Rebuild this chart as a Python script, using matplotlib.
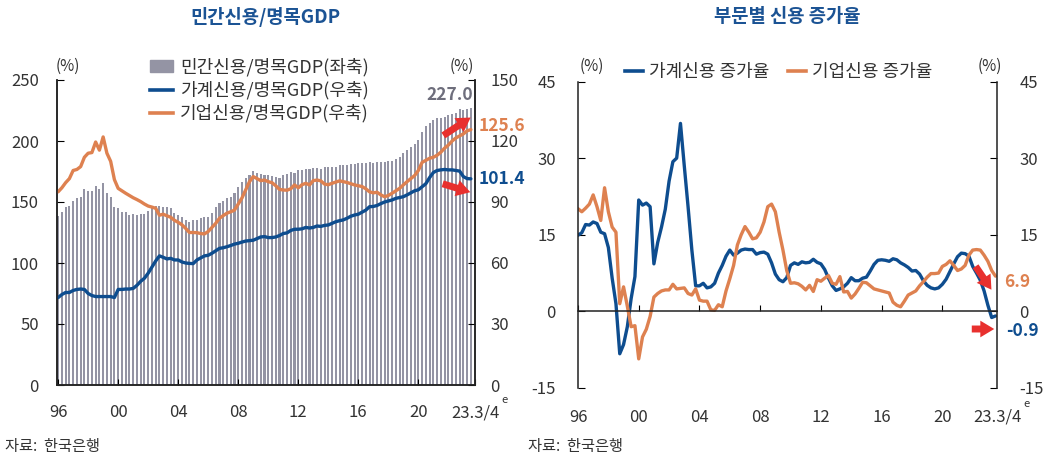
import numpy as np
import matplotlib
matplotlib.use('Agg')
import matplotlib.pyplot as plt
from matplotlib.patches import Patch
from matplotlib.lines import Line2D

plt.rcParams['font.family'] = ['Noto Sans CJK KR', 'DejaVu Sans']
plt.rcParams['axes.unicode_minus'] = False

# quarterly, 1996Q1 .. 2023Q3
year_ticks = ['96', '00', '04', '08', '12', '16', '20']
last_label = '23.3/4'

# private credit / nominal GDP (left axis, %)
private_gdp = [138.5, 142, 146, 146.5, 150.5, 153, 154, 161, 159, 159, 163, 161, 165.5, 157.5, 154, 145.5,
               145, 142, 141.5, 139, 140, 139.5, 140.5, 140, 143, 145.5, 146.5, 146.5, 146, 145.5, 144.8, 141,
               139.5, 138, 135, 134, 135, 135.5, 136.5, 137.3, 138, 141, 146, 149, 151, 153, 154, 157.5,
               162, 166, 169.5, 172, 175, 174, 173, 172, 172, 171.5, 170.8, 169.5, 172, 173, 174.8, 174,
               176, 176.5, 176.8, 177, 177.5, 177.5, 176.8, 178.5, 179, 179, 179, 180, 180.3, 180.5, 181, 181.5,
               182, 182, 182.2, 183, 182, 182.5, 183, 183, 183.5, 184, 185.5, 186.5, 190, 192.5, 195, 197.5,
               201, 207.5, 212, 214.5, 217, 218.5, 218.8, 220, 221, 222, 223.2, 226, 225.4, 226, 227.0]

# household credit / nominal GDP (right axis, %)
household_gdp = [43.0, 44.5, 45.5, 45.5, 46.5, 47.0, 47.2, 47.0, 45.0, 44.0, 43.5, 43.5, 43.5, 43.5, 43.5, 43.0,
                 47.0, 47.0, 47.2, 47.2, 47.5, 49.0, 51.0, 52.5, 55.0, 58.0, 61.0, 63.5, 62.8, 62.0, 62.3, 61.5,
                 61.5, 60.5, 60.0, 59.8, 59.7, 61.5, 62.5, 63.5, 63.8, 64.8, 66.0, 67.2, 67.5, 68.0, 68.6, 69.3,
                 69.7, 70.3, 70.8, 71.0, 71.2, 72.0, 72.8, 73.0, 72.5, 72.5, 72.8, 73.5, 74.5, 74.8, 76.0, 76.6,
                 76.6, 76.8, 77.5, 77.2, 77.5, 78.2, 78.0, 78.5, 78.7, 79.5, 80.3, 80.8, 81.2, 82.0, 83.0, 83.6,
                 84.0, 85.0, 86.0, 87.7, 87.8, 88.3, 89.2, 90.0, 90.5, 91.0, 91.8, 92.2, 92.6, 93.5, 94.5, 95.5,
                 96.0, 97.5, 99.0, 102.0, 104.5, 105.5, 105.8, 106.0, 105.8, 105.8, 105.5, 105.2, 102.5, 101.5, 101.4]

# corporate credit / nominal GDP (right axis, %)
corporate_gdp = [95.0, 97.0, 99.5, 101.5, 105.5, 106.0, 107.4, 112.0, 114.0, 114.3, 119.5, 115.5, 122.0, 114.0, 110.0, 101.0,
                 96.7, 95.5, 94.3, 93.2, 92.1, 91.2, 90.2, 89.0, 88.0, 87.5, 86.9, 83.5, 84.0, 83.2, 82.5, 81.0,
                 80.0, 78.8, 77.0, 75.0, 75.0, 74.9, 74.5, 74.3, 75.5, 77.5, 79.5, 82.0, 83.3, 84.5, 85.2, 86.0,
                 89.0, 92.0, 96.0, 100.0, 102.5, 101.5, 100.5, 100.8, 100.0, 99.5, 98.0, 96.2, 95.9, 95.8, 96.5, 98.4,
                 97.0, 98.5, 99.2, 98.4, 100.5, 100.8, 100.4, 98.8, 98.5, 99.2, 99.8, 100.4, 100.0, 99.6, 99.0, 98.4,
                 98.0, 97.6, 96.5, 95.0, 94.5, 94.8, 93.5, 92.6, 93.2, 94.3, 95.5, 96.7, 98.4, 100.0, 101.5, 103.0,
                 105.5, 109.5, 110.5, 111.5, 112.0, 113.0, 114.5, 116.5, 118.0, 120.0, 121.5, 122.5, 123.5, 125.0, 125.6]

# credit growth by sector (yoy, %)
household_growth = [14.9, 15.4, 17.0, 16.9, 17.5, 17.2, 15.5, 15.2, 12.5, 6.5, 1.5, -8.3, -6.5, -3.0, 2.5, 6.8,
                    21.8, 20.8, 21.2, 20.5, 9.3, 13.5, 16.5, 20.0, 25.5, 29.3, 30.0, 36.8, 28.5, 20.5, 12.0, 5.0,
                    5.0, 5.5, 4.6, 4.8, 5.5, 7.5, 9.0, 10.8, 12.0, 11.0, 11.4, 12.0, 12.2, 12.1, 12.1, 11.2,
                    11.5, 11.6, 11.2, 9.5, 7.3, 6.2, 5.8, 6.6, 9.0, 9.5, 9.2, 9.7, 9.5, 9.6, 10.2, 9.6,
                    9.3, 8.2, 6.5, 5.0, 4.1, 4.4, 4.8, 5.5, 6.6, 6.0, 6.0, 6.5, 6.7, 7.9, 9.2, 10.0,
                    10.1, 10.0, 9.8, 10.3, 10.1, 9.5, 9.1, 8.6, 7.9, 8.0, 7.3, 6.0, 5.1, 4.6, 4.4, 4.6,
                    5.3, 6.3, 7.8, 9.3, 10.7, 11.4, 11.3, 10.8, 8.8, 7.5, 6.1, 4.0, 1.2, -1.2, -0.9]

corporate_growth = [20.1, 19.5, 20.2, 21.0, 22.8, 20.5, 17.8, 24.2, 19.5, 16.5, 15.5, 1.5, 4.8, 1.0, -3.0, -2.8,
                    -9.3, -5.0, -3.5, -1.0, 2.8, 3.5, 4.0, 4.2, 4.2, 5.3, 4.4, 4.5, 4.6, 3.5, 3.2, 4.4,
                    2.2, 2.0, 2.0, 0.3, 0.2, 1.3, 0.9, 4.0, 6.4, 9.0, 13.0, 15.0, 16.6, 15.5, 14.2, 14.4,
                    15.5, 17.5, 20.5, 21.0, 19.5, 15.5, 12.0, 8.0, 5.5, 5.6, 5.4, 4.9, 4.2, 5.1, 3.9, 6.2,
                    5.9, 6.5, 7.0, 5.5, 5.3, 6.8, 3.8, 3.9, 2.6, 3.4, 4.5, 5.7, 5.6, 5.0, 4.4, 4.2,
                    4.0, 3.8, 3.6, 1.8, 1.2, 0.9, 2.0, 3.2, 3.6, 4.0, 5.0, 5.8, 6.7, 7.4, 7.4, 7.5,
                    8.8, 9.2, 9.9, 9.0, 8.0, 8.3, 9.0, 11.0, 12.0, 12.1, 12.0, 11.0, 9.8, 8.0, 6.9]

BLUE = '#0E4D8F'
ORANGE = '#DE8150'
GRAY = '#9494A4'
TITLE = '#1B5394'
TXT = '#333333'
RED = '#E8302E'

q = np.arange(len(private_gdp))
tick_pos = np.arange(0, 97, 16)

fig = plt.figure(figsize=(10.47, 4.59), dpi=100)

# ---------------- left panel ----------------
ax = fig.add_axes([57 / 1047, 74 / 459, 418 / 1047, 305 / 459])
ax.bar(q, private_gdp, width=0.55, color=GRAY, linewidth=0)
ax.set_ylim(0, 250)
ax.set_yticks(range(0, 251, 50))
ax.set_xlim(-0.3, 111.1)
ax.set_xticks(list(tick_pos) + [111.1])
ax.set_xticklabels(year_ticks + [last_label])
ax2 = ax.twinx()
ax2.plot(q, household_gdp, color=BLUE, lw=2.4, solid_capstyle='round')
ax2.plot(q, corporate_gdp, color=ORANGE, lw=2.4, solid_capstyle='round')
ax2.set_ylim(0, 150)
ax2.set_yticks(range(0, 151, 30))

for a in (ax, ax2):
    a.spines['top'].set_visible(False)
    for s in ('left', 'right', 'bottom'):
        a.spines[s].set_linewidth(1.1)
        a.spines[s].set_color('#222222')
ax.tick_params(axis='y', direction='in', length=5, pad=13, labelsize=12, labelcolor=TXT)
ax2.tick_params(axis='y', direction='in', length=5, pad=11, labelsize=12, labelcolor=TXT)
ax.tick_params(axis='x', direction='in', length=4, pad=14, labelsize=12, labelcolor=TXT)

fig.text(265 / 1047, 1 - 17 / 459, '민간신용/명목GDP', ha='center', va='center',
         fontsize=13.5, fontweight='bold', color=TITLE)
fig.text(68 / 1047, 1 - 66 / 459, '(%)', ha='center', va='center', fontsize=11, color=TXT)
fig.text(462 / 1047, 1 - 66 / 459, '(%)', ha='center', va='center', fontsize=11, color=TXT)
fig.text(505 / 1047, 1 - 400 / 459, 'e', ha='center', va='center', fontsize=8, color=TXT)

handles = [Patch(color=GRAY),
           Line2D([], [], color=BLUE, lw=2.6),
           Line2D([], [], color=ORANGE, lw=2.6)]
labels = ['민간신용/명목GDP(좌축)', '가계신용/명목GDP(우축)', '기업신용/명목GDP(우축)']
leg = fig.legend(handles, labels, loc='upper left', bbox_to_anchor=(150 / 1047, 1 - 58 / 459),
                 frameon=False, fontsize=13, handlelength=1.3, handleheight=0.65,
                 handletextpad=0.35, labelspacing=0.26, borderpad=0, borderaxespad=0)
for t in leg.get_texts():
    t.set_color(TXT)

fig.text(450 / 1047, 1 - 95 / 459, '227.0', ha='center', va='center', fontsize=12.5,
         fontweight='bold', color='#6E6E7C')
fig.text(502 / 1047, 1 - 126 / 459, '125.6', ha='center', va='center', fontsize=12.5,
         fontweight='bold', color=ORANGE)
fig.text(502 / 1047, 1 - 179 / 459, '101.4', ha='center', va='center', fontsize=12.5,
         fontweight='bold', color=BLUE)

arrow = dict(arrowstyle='simple,head_width=1.2,head_length=1.0,tail_width=0.5',
             color=RED, lw=0)
ax.annotate('', xy=(473, 459 - 116), xytext=(441, 459 - 137), xycoords='figure pixels',
            textcoords='figure pixels', arrowprops=arrow)
ax.annotate('', xy=(473, 459 - 193), xytext=(440, 459 - 183), xycoords='figure pixels',
            textcoords='figure pixels', arrowprops=arrow)

fig.text(5 / 1047, 13 / 459, '자료:  한국은행', ha='left', va='center', fontsize=11, color=TXT)

# ---------------- right panel ----------------
bx = fig.add_axes([578 / 1047, 71 / 459, 419 / 1047, 306.5 / 459])
bx.plot(q, household_growth, color=BLUE, lw=2.4, solid_capstyle='round')
bx.plot(q, corporate_growth, color=ORANGE, lw=2.4, solid_capstyle='round')
bx.set_ylim(-15, 45)
bx.set_yticks(range(-15, 46, 15))
bx.set_xlim(0, 110.4)
bx.spines['top'].set_visible(False)
bx.spines['bottom'].set_position(('data', 0))
for s in ('left', 'right', 'bottom'):
    bx.spines[s].set_linewidth(1.1)
    bx.spines[s].set_color('#222222')
bx.set_xticks(tick_pos)
bx.tick_params(axis='x', direction='in', length=4, labelbottom=False)
bx.tick_params(axis='y', direction='in', length=5, pad=16, labelsize=12, labelcolor=TXT,
               right=True, labelright=True)
sec = bx.secondary_xaxis(0.0)
sec.set_xticks(list(tick_pos) + [110.4])
sec.set_xticklabels(year_ticks + [last_label])
sec.tick_params(axis='x', length=0, pad=15, labelsize=12, labelcolor=TXT)
sec.spines['bottom'].set_visible(False)

fig.text(787 / 1047, 1 - 17 / 459, '부문별 신용 증가율', ha='center', va='center',
         fontsize=13.5, fontweight='bold', color=TITLE)
fig.text(592 / 1047, 1 - 66 / 459, '(%)', ha='center', va='center', fontsize=11, color=TXT)
fig.text(990 / 1047, 1 - 66 / 459, '(%)', ha='center', va='center', fontsize=11, color=TXT)
fig.text(1027 / 1047, 1 - 404 / 459, 'e', ha='center', va='center', fontsize=8, color=TXT)

handles2 = [Line2D([], [], color=BLUE, lw=2.6), Line2D([], [], color=ORANGE, lw=2.6)]
leg2 = fig.legend(handles2, ['가계신용 증가율', '기업신용 증가율'], loc='upper left',
                  bbox_to_anchor=(625 / 1047, 1 - 63 / 459), ncol=2, frameon=False, fontsize=13,
                  handlelength=1.0, handletextpad=0.35, columnspacing=1.0, borderpad=0,
                  borderaxespad=0)
for t in leg2.get_texts():
    t.set_color(TXT)

fig.text(1017 / 1047, 1 - 282 / 459, '6.9', ha='center', va='center', fontsize=12.5,
         fontweight='bold', color=ORANGE)
fig.text(1022 / 1047, 1 - 331 / 459, '-0.9', ha='center', va='center', fontsize=12.5,
         fontweight='bold', color=BLUE)
bx.annotate('', xy=(993, 459 - 292), xytext=(974, 459 - 264), xycoords='figure pixels',
            textcoords='figure pixels', arrowprops=arrow)
bx.annotate('', xy=(997, 459 - 329), xytext=(969, 459 - 329), xycoords='figure pixels',
            textcoords='figure pixels', arrowprops=arrow)

fig.text(528 / 1047, 13 / 459, '자료:  한국은행', ha='left', va='center', fontsize=11, color=TXT)

fig.savefig('out.png', dpi=100)
